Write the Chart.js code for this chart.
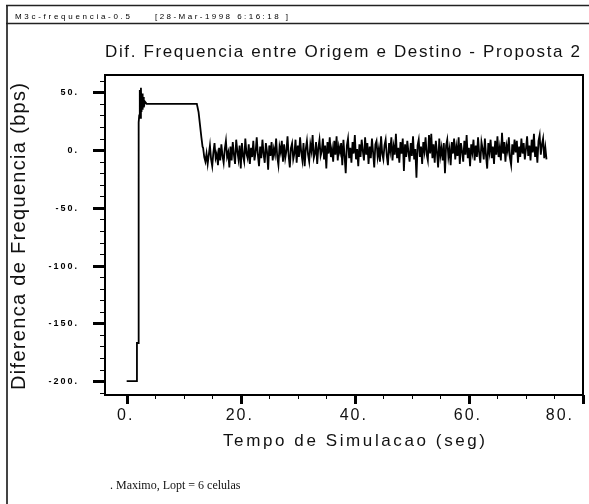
<!DOCTYPE html>
<html>
<head>
<meta charset="utf-8">
<script src="https://cdn.jsdelivr.net/npm/chart.js@4.4.1/dist/chart.umd.min.js"></script>
<style>
  body { margin: 0; background: #fff; }
  canvas { display: block; }
</style>
</head>
<body>
<canvas id="grafico" width="589" height="504"></canvas>
<script>
// textos do grafico
const cabecalhoArquivo = "M3c-frequencia-0.5";
const cabecalhoData = "[28-Mar-1998 6:16:18 ]";
const titulo = "Dif. Frequencia entre Origem e Destino - Proposta 2";
const tituloX = "Tempo de Simulacao (seg)";
const tituloY = "Diferenca de Frequencia (bps)";
const rodape = ". Maximo, Lopt = 6 celulas";

// eixos
const yTicksMaiores = [50, 0, -50, -100, -150, -200];
const yTickLabels = ["50.", "0.", "-50.", "-100.", "-150.", "-200."];
const xTicksMaiores = [0, 20, 40, 60, 80];
const xTickLabels = ["0.", "20.", "40.", "60.", "80."];

// partida: degrau de -200 ate ~40, patamar e queda
const inicioTempo = [0, 1.75, 1.8, 2.05, 2.1, 2.2, 2.3, 2.4, 2.5, 2.6, 2.7, 2.8, 2.9, 3.0, 3.2, 3.5, 12.3, 12.6, 13.1, 13.3];
const inicioValor = [-200, -200, -167, -167, 24, 30, 52, 28, 54, 33, 49, 35, 46, 37, 42, 40, 40, 33, 11, 3];

// regime: oscilacao em torno de zero, amostras a cada 0.2 s
const ruidoInicio = 13.4;
const ruidoPasso = 0.2;
const ruidoValores = [
  2, -6, -10, -3, -12, -4, 4, -8, -14, -2, 6, -7, -3, -13, 2, -9, 5, -5, -11, 1,
  8, -6, -2, -15, 3, -9, 7, -4, -12, 9, -1, -8, 4, -16, 6, -5, -10, 10, -3, -7,
  5, -12, 2, -6, 8, -9, -2, 11, -4, -14, 3, -7, 9, -3, -11, 6, -1, -17, 4, -5,
  7, -9, 1, -4, 10, -6, -13, 3, -2, 8, -10, 5, -7, -1, 12, -5, -15, 2, 6, -8,
  -3, 9, -11, 4, -6, 11, -2, -9, 6, -14, 1, 8, -4, -10, 5, -1, 13, -7, -3, 7,
  -12, 2, 9, -5, -1, 10, -8, 4, -16, 7, -3, 11, -6, 1, -10, 8, -4, 12, -9, 3,
  -2, 6, -13, 9, -5, -20, 4, 10, -7, 2, -11, 7, -3, 13, -8, 1, -14, 5, -6, 9,
  -1, -9, 11, -4, 6, -12, 3, -7, 10, -2, -15, 5, 8, -6, 1, -10, 12, -3, -8, 4,
  9, -5, -13, 6, -1, 11, -9, 3, -4, 14, -7, 2, -11, 7, -3, 10, -18, 5, -6, 8,
  -2, -10, 6, -5, 12, -8, 1, -24, 4, 9, -6, 3, -12, 7, -1, 11, -4, -9, 13, -3,
  14, -7, 5, -11, 8, -2, -15, 10, -5, 2, -9, 6, -20, 4, 9, -6, 1, -13, 7, -3,
  10, -8, 3, -5, 11, -12, 6, -1, -10, 8, -4, 13, -7, 2, -14, 5, -2, 9, -9, 4,
  -6, 11, -3, -11, 7, 1, -8, 10, -5, -16, 6, -2, 9, -7, 3, -12, 8, -4, 12, -6,
  2, -9, 15, -3, 7, -10, 4, -1, 11, -7, -13, 5, -4, 9, -2, 8, -11, 3, -6, 10,
  -3, 6, -8, 1, 12, -5, 4, -9, 9, -2, 14, -6, 3, -11, 8, 13, -4, 5, 10, -7,
  2, -8
];

const pontos = inicioTempo.map((t, i) => ({ x: t, y: inicioValor[i] }))
  .concat(ruidoValores.map((v, i) => ({ x: ruidoInicio + i * ruidoPasso, y: v })));

// escreve texto esticado ate a largura desejada (o original tem letras espacadas)
function textoEspacado(ctx, texto, x, y, largura) {
  ctx.letterSpacing = "0px";
  const w = ctx.measureText(texto).width;
  const esp = (largura - w) / (texto.length - 1);
  ctx.letterSpacing = esp + "px";
  ctx.fillText(texto, x, y);
  ctx.letterSpacing = "0px";
}

const moldura = {
  id: "moldura",
  beforeDraw(chart) {
    const ctx = chart.ctx;
    ctx.save();
    ctx.fillStyle = "#fff";
    ctx.fillRect(0, 0, chart.width, chart.height);

    // bordas da pagina
    ctx.strokeStyle = "#444";
    ctx.lineWidth = 2;
    ctx.beginPath();
    ctx.moveTo(7, 5); ctx.lineTo(7, 504);
    ctx.stroke();
    ctx.lineWidth = 1.5;
    ctx.strokeStyle = "#222";
    ctx.beginPath();
    ctx.moveTo(6, 5.5); ctx.lineTo(589, 5.5);
    ctx.moveTo(6, 23.5); ctx.lineTo(589, 23.5);
    ctx.stroke();

    ctx.fillStyle = "#000";
    ctx.textAlign = "left";
    ctx.textBaseline = "alphabetic";
    ctx.font = "8px 'Liberation Sans'";
    textoEspacado(ctx, cabecalhoArquivo, 15, 19, 115);
    textoEspacado(ctx, cabecalhoData, 155, 19, 133);

    ctx.fillStyle = "#111";
    ctx.font = "17px 'Liberation Sans'";
    textoEspacado(ctx, titulo, 105, 57, 475);

    ctx.font = "17px 'Liberation Sans'";
    textoEspacado(ctx, tituloX, 223, 446, 262);

    ctx.save();
    ctx.translate(25, 390);
    ctx.rotate(-Math.PI / 2);
    ctx.font = "20px 'Liberation Sans'";
    textoEspacado(ctx, tituloY, 0, 0, 307);
    ctx.restore();

    ctx.font = "12px 'Liberation Serif'";
    ctx.fillText(rodape, 110, 489);
    ctx.restore();
  },
  afterDatasetsDraw(chart) {
    const ctx = chart.ctx;
    const a = chart.chartArea;
    const sx = chart.scales.x, sy = chart.scales.y;
    ctx.save();
    ctx.strokeStyle = "#000";
    ctx.lineWidth = 2;
    ctx.strokeRect(a.left, a.top, a.right - a.left, a.bottom - a.top);

    // marcas menores
    ctx.lineWidth = 1;
    ctx.beginPath();
    for (let v = -210; v <= 60; v += 10) {
      const y = Math.round(sy.getPixelForValue(v)) + 0.5;
      ctx.moveTo(a.left - 5, y); ctx.lineTo(a.left, y);
    }
    for (let v = 0; v <= 75; v += 5) {
      const x = Math.round(sx.getPixelForValue(v)) + 0.5;
      ctx.moveTo(x, a.bottom); ctx.lineTo(x, a.bottom + 4);
    }
    ctx.stroke();

    // marcas maiores
    ctx.lineWidth = 3;
    ctx.beginPath();
    yTicksMaiores.forEach(v => {
      const y = Math.round(sy.getPixelForValue(v)) + 0.5;
      ctx.moveTo(a.left - 12, y); ctx.lineTo(a.left, y);
    });
    xTicksMaiores.forEach(v => {
      const x = Math.round(sx.getPixelForValue(v)) + 0.5;
      ctx.moveTo(x, a.bottom); ctx.lineTo(x, a.bottom + 9);
    });
    ctx.stroke();

    // rotulos
    ctx.fillStyle = "#000";
    ctx.textBaseline = "alphabetic";
    ctx.font = "bold 9px 'Liberation Sans'";
    ctx.textAlign = "right";
    ctx.letterSpacing = "2px";
    yTicksMaiores.forEach((v, i) => {
      ctx.fillText(yTickLabels[i], 79, sy.getPixelForValue(v) + 3);
    });
    ctx.fillStyle = "#111";
    ctx.font = "16px 'Liberation Sans'";
    ctx.textAlign = "left";
    ctx.letterSpacing = "2px";
    xTicksMaiores.forEach((v, i) => {
      const txt = xTickLabels[i];
      const total = ctx.measureText(txt).width;
      let x = sx.getPixelForValue(v) - 1 - total / 2;
      if (x + total > 574) x = 574 - total;
      ctx.fillText(txt, x, 420);
    });
    ctx.letterSpacing = "0px";
    ctx.restore();
  }
};

function fixaTamanho(lado) {
  return scale => {
    if (lado === "y") scale.width = 105; else scale.height = 109;
    scale.paddingLeft = scale.paddingRight = scale.paddingTop = scale.paddingBottom = 0;
  };
}

new Chart(document.getElementById("grafico"), {
  type: "line",
  data: {
    datasets: [{
      data: pontos,
      borderColor: "#000",
      borderWidth: 1.8,
      pointRadius: 0,
      tension: 0,
      fill: false
    }]
  },
  options: {
    responsive: false,
    animation: false,
    events: [],
    layout: { padding: { left: 0, top: 75, right: 6, bottom: 0 } },
    plugins: { legend: { display: false }, tooltip: { enabled: false } },
    scales: {
      x: {
        type: "linear", min: -3.8, max: 80,
        grid: { display: false }, border: { display: false },
        ticks: { display: false },
        afterFit: fixaTamanho("x")
      },
      y: {
        type: "linear", min: -212, max: 65,
        grid: { display: false }, border: { display: false },
        ticks: { display: false },
        afterFit: fixaTamanho("y")
      }
    }
  },
  plugins: [moldura]
});
</script>
</body>
</html>
